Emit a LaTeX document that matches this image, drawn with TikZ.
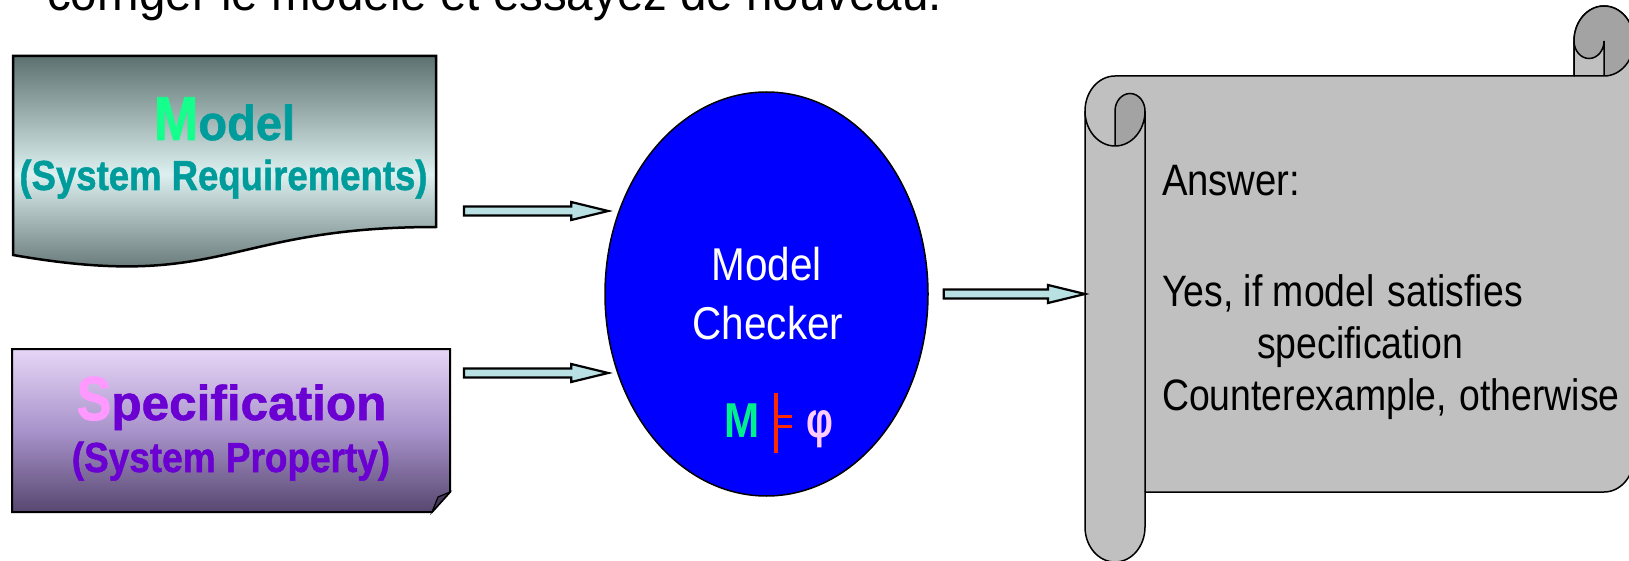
\documentclass[tikz,border=0pt]{standalone}
\usepackage{fontspec}
\setmainfont{Liberation Sans}
\newfontfamily\heavyfont[FakeBold=1.2]{Liberation Sans Bold}
\usepackage{graphicx}
\usetikzlibrary{calc,shapes.geometric}

\definecolor{modeltop}{HTML}{5E7171}
\definecolor{modelmid}{HTML}{DDF0F0}
\definecolor{modelbot}{HTML}{4C5C5C}
\definecolor{spectop}{HTML}{E6D6F6}
\definecolor{specmid}{HTML}{A993CB}
\definecolor{specbot}{HTML}{574770}
\definecolor{specfold}{HTML}{46385A}
\definecolor{arrowfill}{HTML}{B9E0E3}
\definecolor{mgreen}{HTML}{14FF8C}
\definecolor{mteal}{HTML}{009C9C}
\definecolor{spink}{HTML}{FF99FF}
\definecolor{spurple}{HTML}{6A00D2}
\definecolor{mcblue}{HTML}{0000FF}
\definecolor{fgreen}{HTML}{00F08C}
\definecolor{fred}{HTML}{FF2A00}
\definecolor{fpink}{HTML}{FFCCFF}
\definecolor{scrolllight}{HTML}{C0C0C0}
\definecolor{scrolldark}{HTML}{A3A3A3}

% horizontal squeeze of a piece of text
\newcommand{\sqz}[2]{\scalebox{#1}[1]{#2}}
% font size in pt with equal baseline skip
\newcommand{\fs}[1]{\fontsize{#1}{#1}\selectfont}

\tikzset{
  txt/.style={inner sep=0pt, outer sep=0pt},
  blockarrow/.style={draw=black, line width=2.2pt, fill=arrowfill, line join=miter,
    to path={let \p1=(\tikztostart), \p2=(\tikztotarget) in
      (\x1,\y1+4.5pt) -- (\x2-37pt,\y1+4.5pt) -- (\x2-37pt,\y1+9pt) -- (\x2,\y1)
      -- (\x2-37pt,\y1-9pt) -- (\x2-37pt,\y1-4.5pt) -- (\x1,\y1-4.5pt) -- cycle}},
  scrollline/.style={draw=black, line width=1.5pt},
}

\begin{document}
\begin{tikzpicture}[x=1pt,y=-1pt]
\useasboundingbox (0,0) rectangle (1629,561);
\clip (0,0) rectangle (1629,561);
\fill[white] (0,0) rectangle (1629,561);

% heading line, partly above the frame
\node[txt, anchor=base west] (heading) at (47,11)
  {\fs{50}\sqz{0.95}{corriger le modèle et essayez de nouveau.}};

% ---- model: document shape with wavy bottom ----
\draw[line width=2.5pt, top color=modeltop, bottom color=modelbot, middle color=modelmid]
  (13,56) -- (436,56) -- (436,227)
  .. controls (224.5,227) and (224.5,292) .. (13,255) -- cycle;
\node[txt, anchor=base] (modelname) at (224.5,140)
  {\heavyfont\sqz{0.86}{\color{mgreen}\fs{62}M}\sqz{0.96}{\color{mteal}\fs{49}odel}};
\node[txt, anchor=base] (modelsub) at (223.5,190)
  {\color{mteal}\heavyfont\fs{42}\sqz{0.87}{(System Requirements)}};

% ---- specification: folded-corner card ----
\draw[line width=2pt, top color=spectop, bottom color=specbot, middle color=specmid]
  (12,349) -- (450,349) -- (450,492) -- (432,512) -- (12,512) -- cycle;
\draw[line width=1.2pt, fill=specfold] (450,492) -- (438,497) -- (432,512) -- cycle;
\node[txt, anchor=base] (specname) at (231.5,420)
  {\heavyfont\sqz{0.84}{\color{spink}\fs{62}S}\sqz{1.01}{\color{spurple}\fs{49}pecification}};
\node[txt, anchor=base] (specsub) at (231,472)
  {\color{spurple}\heavyfont\fs{42}\sqz{0.88}{(System Property)}};

% ---- model checker ----
\node[ellipse, draw=black, line width=1.5pt, fill=mcblue, minimum width=323pt,
      minimum height=404pt, inner sep=0pt] (mc) at (766.5,294) {};
\node[txt, anchor=base, text=white] (mcl1) at (766.5,280) {\fs{46}\sqz{0.88}{Model}};
\node[txt, anchor=base, text=white] (mcl2) at (768,339) {\fs{46}\sqz{0.88}{Checker}};
\node[txt, anchor=base west, text=fgreen] (fm) at (724,437) {\fs{49}\bfseries\sqz{0.86}{M}};
\draw[fred, line width=4pt] (776,393) -- (776,453);
\draw[fred, line width=3.5pt] (776,416.5) -- (792,416.5) (776,426.5) -- (792,426.5);
\node[txt, anchor=base west, text=fpink] (fphi) at (806,437) {\fs{50}\bfseries\sqz{0.75}{φ}};

% ---- answer scroll ----
\coordinate (scrollin) at (1085,293);
\filldraw[fill=scrolllight, scrollline]
  (1085,111) arc[start angle=180, end angle=270, x radius=30, y radius=35]
  -- (1574,76) -- (1574,41)
  arc[start angle=180, end angle=360, x radius=30, y radius=35]
  -- (1634,457) arc[start angle=0, end angle=90, x radius=30, y radius=35]
  -- (1145,492) -- (1145,527)
  arc[start angle=0, end angle=180, x radius=30, y radius=35] -- cycle;
% top right curl
\fill[scrolldark] (1604,76) arc[start angle=90, end angle=-180, x radius=30, y radius=35]
  arc[start angle=180, end angle=0, x radius=15, y radius=17.5] -- cycle;
\draw[scrollline] (1574,76) -- (1604,76) arc[start angle=90, end angle=0, x radius=30, y radius=35];
\draw[scrollline] (1604,76) -- (1604,41) arc[start angle=0, end angle=180, x radius=15, y radius=17.5];
\draw[scrollline] (1574,76) -- (1574,41) arc[start angle=180, end angle=360, x radius=30, y radius=35];
% left roll curl
\fill[scrolldark] (1115,111) arc[start angle=180, end angle=360, x radius=15, y radius=17.5]
  arc[start angle=0, end angle=90, x radius=30, y radius=35] -- cycle;
\draw[scrollline] (1085,111) arc[start angle=180, end angle=0, x radius=30, y radius=35] -- (1145,492);
\draw[scrollline] (1115,146) -- (1115,111) arc[start angle=180, end angle=360, x radius=15, y radius=17.5];

\node[txt, anchor=base west] (answer) at (1162,196) {\fs{44}\sqz{0.87}{Answer:}};
\node[txt, anchor=base west] (yesline) at (1162,306) {\fs{44}\sqz{0.85}{Yes, if model\hspace{3pt} satisfies}};
\node[txt, anchor=base west] (specline) at (1257,358) {\fs{44}\sqz{0.85}{specification}};
\node[txt, anchor=base west] (counterline) at (1162,410) {\fs{44}\sqz{0.85}{Counterexample,\hspace{3pt} otherwise}};

% ---- block arrows ----
\coordinate (a1) at (464,211);
\coordinate (a2) at (464,373);
\draw[blockarrow] (a1) to ($(mc.151)+(-10,0)$);
\draw[blockarrow] (a2) to ($(mc.209)+(-10,0)$);
\draw[blockarrow] ($(mc.east)+(15,0)$) to (scrollin);
\end{tikzpicture}
\end{document}
